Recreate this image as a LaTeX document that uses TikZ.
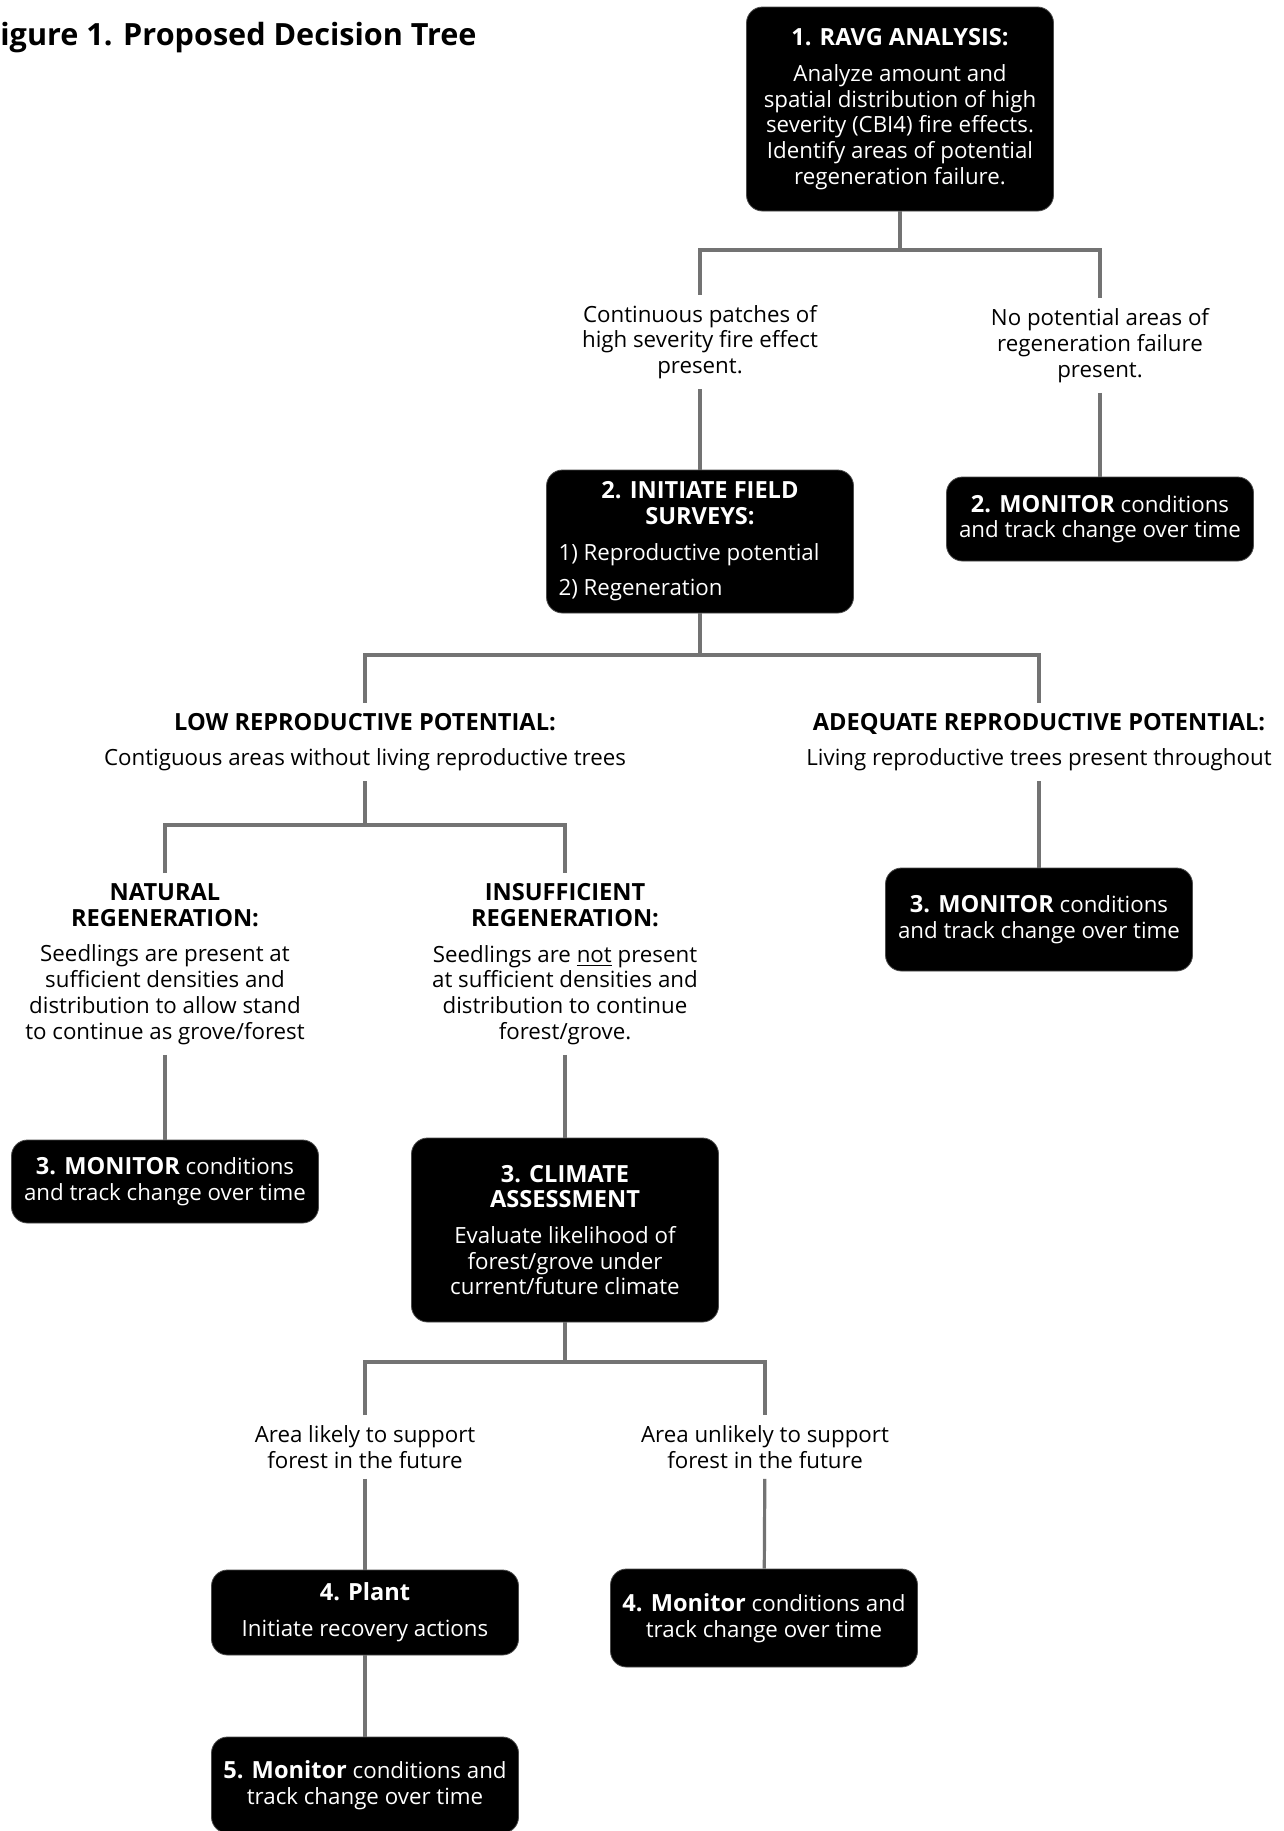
\documentclass[tikz,border=0pt]{standalone}
\usepackage{fontspec}
\setmainfont{Open Sans}
\usetikzlibrary{positioning}
\newcommand\boldhead[1]{{\fontsize{11.8}{12.85}\selectfont\bfseries #1}}

\begin{document}
\begin{tikzpicture}[x=0.5pt,y=-0.5pt,
  every node/.style={font=\fontsize{11.15}{12.85}\selectfont},
  stepbox/.style={fill=black, draw=black!70, line width=0.4pt, text=white,
    rounded corners=8pt, minimum width=153.5pt, align=center, inner sep=0pt},
  note/.style={align=center, inner xsep=2pt, inner ysep=5pt},
  link/.style={draw=black!55, line width=1.6pt},
]
  \clip (0,0) rectangle (1284,1831);
  \fill[white] (0,0) rectangle (1284,1831);

  \node[anchor=west, inner sep=0pt, font=\bfseries\fontsize{15.3}{18}\selectfont] (title) at (0,38)
    {igure 1. Proposed Decision Tree};

  % boxes
  \node[stepbox, minimum height=102pt] (ravg) at (900,109)
    {\boldhead{1. RAVG ANALYSIS:}\\[5pt] Analyze amount and\\ spatial distribution of high\\
     severity (CBI4) fire effects.\\ Identify areas of potential\\ regeneration failure.};
  \node[stepbox, minimum height=71.5pt] (survey) at (700,541.5)
    {\boldhead{2. INITIATE FIELD}\\ \boldhead{SURVEYS:}\\[5pt]
     \makebox[141.5pt][l]{1) Reproductive potential}\\[5pt]
     \makebox[141.5pt][l]{2) Regeneration}};
  \node[stepbox, minimum height=42pt] (mon2) at (1100,519)
    {\boldhead{2. MONITOR} conditions\\ and track change over time};
  \node[stepbox, minimum height=51.5pt] (mon3r) at (1039,919.5)
    {\boldhead{3. MONITOR} conditions\\ and track change over time};
  \node[stepbox, minimum height=41.5pt] (mon3l) at (165,1181.5)
    {\boldhead{3. MONITOR} conditions\\ and track change over time};
  \node[stepbox, minimum height=92pt] (climate) at (565,1230)
    {\boldhead{3. CLIMATE}\\ \boldhead{ASSESSMENT}\\[5pt] Evaluate likelihood of\\
     forest/grove under\\ current/future climate};
  \node[stepbox, minimum height=42.5pt] (plant) at (365,1612.5)
    {\boldhead{4. Plant}\\[5pt] Initiate recovery actions};
  \node[stepbox, minimum height=49pt] (mon4) at (764,1618)
    {\boldhead{4. Monitor} conditions and\\ track change over time};
  \node[stepbox, minimum height=48pt] (mon5) at (365,1785)
    {\boldhead{5. Monitor} conditions and\\ track change over time};

  % labels
  \node[note] (cont) at (700,342)
    {Continuous patches of\\ high severity fire effect\\ present.};
  \node[note] (nopot) at (1100,345.5)
    {No potential areas of\\ regeneration failure\\ present.};
  \node[note] (low) at (365,742)
    {\boldhead{LOW REPRODUCTIVE POTENTIAL:}\\[5pt] Contiguous areas without living reproductive trees};
  \node[note] (adeq) at (1039,742)
    {\boldhead{ADEQUATE REPRODUCTIVE POTENTIAL:}\\[5pt] Living reproductive trees present throughout};
  \node[note] (natural) at (165,964)
    {\boldhead{NATURAL}\\ \boldhead{REGENERATION:}\\[5pt] Seedlings are present at\\
     sufficient densities and\\ distribution to allow stand\\ to continue as grove/forest};
  \node[note] (insuff) at (565,964)
    {\boldhead{INSUFFICIENT}\\ \boldhead{REGENERATION:}\\[5pt] Seedlings are \underline{not} present\\
     at sufficient densities and\\ distribution to continue\\ forest/grove.};
  \node[note] (likely) at (365,1447)
    {Area likely to support\\ forest in the future};
  \node[note] (unlikely) at (765,1447)
    {Area unlikely to support\\ forest in the future};

  % forks
  \coordinate (f1) at (900,250);
  \coordinate (f2) at (700,655);
  \coordinate (f3) at (365,825);
  \coordinate (f4) at (565,1362);

  \draw[link] (ravg) -- (f1);
  \draw[link] (cont.north) |- (f1) -| (nopot.north);
  \draw[link] (cont) -- (survey);
  \draw[link] (nopot) -- (mon2);
  \draw[link] (survey) -- (f2);
  \draw[link] (low.north) |- (f2) -| (adeq.north);
  \draw[link] (low) -- (f3);
  \draw[link] (adeq) -- (mon3r);
  \draw[link] (natural.north) |- (f3) -| (insuff.north);
  \draw[link] (natural) -- (mon3l);
  \draw[link] (insuff) -- (climate);
  \draw[link] (climate) -- (f4);
  \draw[link] (likely.north) |- (f4) -| (unlikely.north);
  \draw[link] (likely) -- (plant);
  \draw[link] (unlikely) -- (mon4);
  \draw[link] (plant) -- (mon5);
\end{tikzpicture}
\end{document}
